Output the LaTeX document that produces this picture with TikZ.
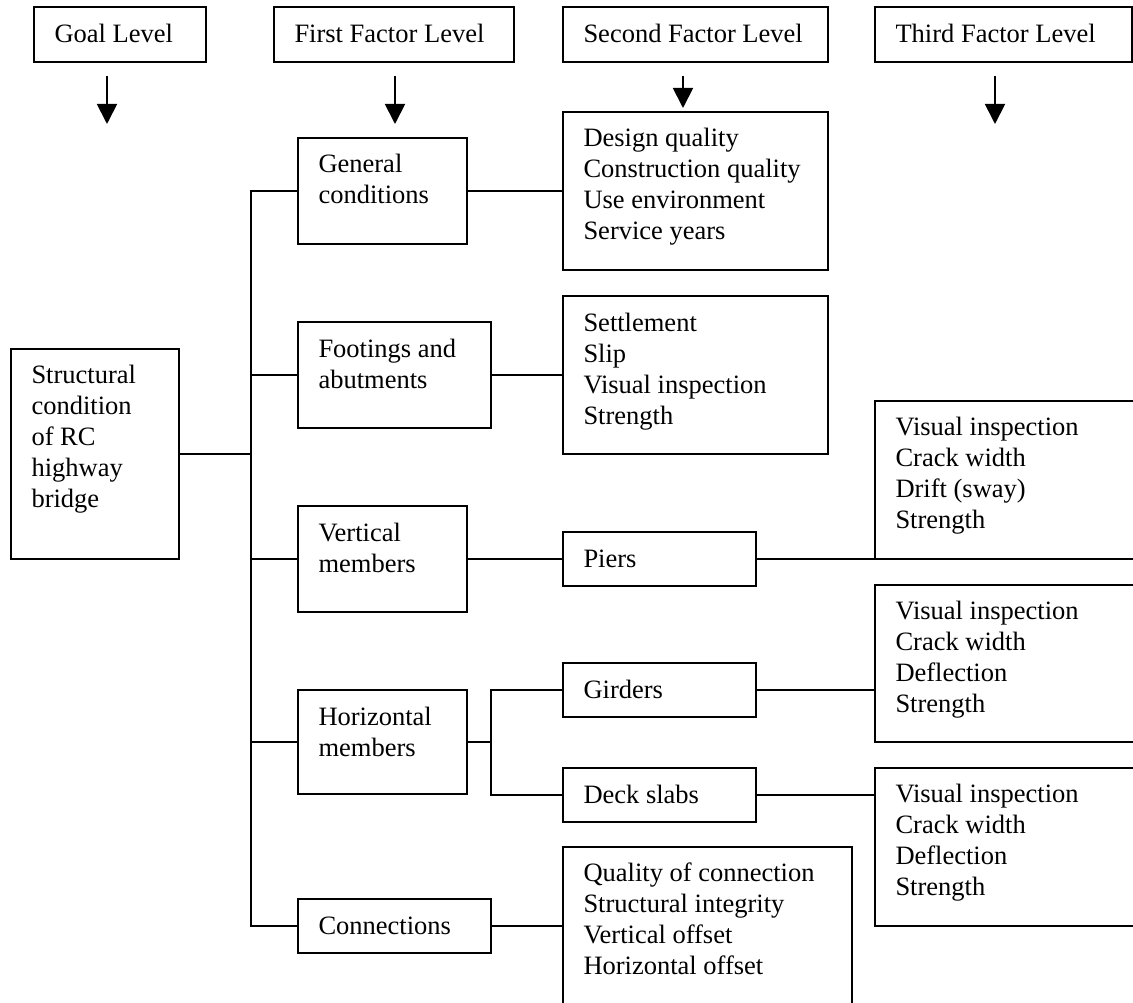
\documentclass[tikz,border=0pt]{standalone}
\usepackage{fontspec}
\setmainfont{Liberation Serif}
\usetikzlibrary{arrows.meta,calc}
\begin{document}
\begin{tikzpicture}[x=1pt,y=-1pt,
  box/.style={draw, line width=1.8pt, inner sep=0pt, outer sep=0pt, anchor=north west},
  txt/.style={inner sep=0pt, outer sep=0pt, anchor=north west, align=left, font=\fontsize{26.5}{31}\selectfont},
  link/.style={line width=1.8pt},
  arr/.style={line width=1.8pt, -{Triangle[width=20pt,length=20pt]}}]
\useasboundingbox (0,0) rectangle (1133,1003);
\clip (0,0) rectangle (1133,1003);

% header boxes
\node[box, minimum width=172, minimum height=55] (goal) at (34,7) {};
\node[box, minimum width=240, minimum height=55] (first) at (274,7) {};
\node[box, minimum width=265, minimum height=55] (second) at (563,7) {};
\node[box, minimum width=257, minimum height=55] (third) at (875,7) {};
\node[txt] (goal-t) at ([shift={(20.5,14.3)}]goal.north west) {\strut Goal Level};
\node[txt] (first-t) at ([shift={(20.5,14.3)}]first.north west) {\strut First Factor Level};
\node[txt] (second-t) at ([shift={(20.5,14.3)}]second.north west) {\strut Second Factor Level};
\node[txt] (third-t) at ([shift={(20.5,14.3)}]third.north west) {\strut Third Factor Level};

% arrows
\coordinate (a1s) at (107,76); \coordinate (a1e) at (107,124);
\coordinate (a2s) at (395,76); \coordinate (a2e) at (395,124);
\coordinate (a3s) at (683,76); \coordinate (a3e) at (683,108);
\coordinate (a4s) at (995,76); \coordinate (a4e) at (995,124);
\draw[arr] (a1s) -- (a1e);
\draw[arr] (a2s) -- (a2e);
\draw[arr] (a3s) -- (a3e);
\draw[arr] (a4s) -- (a4e);

% goal
\node[box, minimum width=168, minimum height=210] (sc) at (11,349) {};
\node[txt] (sc-t) at ([shift={(20.5,12.8)}]sc.north west) {\strut Structural\\condition\\of RC\\highway\\bridge};

% first level
\node[box, minimum width=169, minimum height=106] (gc) at (298,138) {};
\node[txt] (gc-t) at ([shift={(20.5,13.3)}]gc.north west) {\strut General\\conditions};
\node[box, minimum width=193, minimum height=106] (fa) at (298,322) {};
\node[txt] (fa-t) at ([shift={(20.5,13.3)}]fa.north west) {\strut Footings and\\abutments};
\node[box, minimum width=169, minimum height=106] (vm) at (298,506) {};
\node[txt] (vm-t) at ([shift={(20.5,13.3)}]vm.north west) {\strut Vertical\\members};
\node[box, minimum width=169, minimum height=104] (hm) at (298,690) {};
\node[txt] (hm-t) at ([shift={(20.5,13.3)}]hm.north west) {\strut Horizontal\\members};
\node[box, minimum width=193, minimum height=54] (cn) at (298,899) {};
\node[txt] (cn-t) at ([shift={(20.5,13.3)}]cn.north west) {\strut Connections};

% second level
\node[box, minimum width=265, minimum height=158] (dq) at (563,112) {};
\node[txt] (dq-t) at ([shift={(20.5,13.3)}]dq.north west) {\strut Design quality\\Construction quality\\Use environment\\Service years};
\node[box, minimum width=265, minimum height=158] (st) at (563,296) {};
\node[txt] (st-t) at ([shift={(20.5,13.3)}]st.north west) {\strut Settlement\\Slip\\Visual inspection\\Strength};
\node[box, minimum width=193, minimum height=54] (piers) at (563,532) {};
\node[txt] (piers-t) at ([shift={(20.5,13.3)}]piers.north west) {\strut Piers};
\node[box, minimum width=193, minimum height=54] (gi) at (563,663) {};
\node[txt] (gi-t) at ([shift={(20.5,13.3)}]gi.north west) {\strut Girders};
\node[box, minimum width=193, minimum height=54] (ds) at (563,768) {};
\node[txt] (ds-t) at ([shift={(20.5,13.3)}]ds.north west) {\strut Deck slabs};
\node[box, minimum width=289, minimum height=200] (qc) at (563,847) {};
\node[txt] (qc-t) at ([shift={(20.5,12.8)}]qc.north west) {\strut Quality of connection\\Structural integrity\\Vertical offset\\Horizontal offset};

% third level
\node[box, minimum width=290, minimum height=158] (vi1) at (875,401) {};
\node[txt] (vi1-t) at ([shift={(20.5,12.8)}]vi1.north west) {\strut Visual inspection\\Crack width\\Drift (sway)\\Strength};
\node[box, minimum width=290, minimum height=157] (vi2) at (875,585) {};
\node[txt] (vi2-t) at ([shift={(20.5,12.8)}]vi2.north west) {\strut Visual inspection\\Crack width\\Deflection\\Strength};
\node[box, minimum width=290, minimum height=158] (vi3) at (875,768) {};
\node[txt] (vi3-t) at ([shift={(20.5,12.8)}]vi3.north west) {\strut Visual inspection\\Crack width\\Deflection\\Strength};

% connectors
\coordinate (tx) at (251,0);
\coordinate (hx) at (491,0);
\draw[link] (gc.west) -- (gc.west -| tx) -- (cn.west -| tx) -- (cn.west);
\draw[link] (sc.east) -- (sc.east -| tx);
\draw[link] (fa.west) -- (fa.west -| tx);
\draw[link] (vm.west) -- (vm.west -| tx);
\draw[link] (hm.west) -- (hm.west -| tx);
\draw[link] (gc.east) -- (gc.east -| dq.west);
\draw[link] (fa.east) -- (fa.east -| st.west);
\draw[link] (vm.east) -- (vm.east -| piers.west);
\draw[link] (piers.east) -- (piers.east -| vi1.west);
\draw[link] (hm.east) -- (hm.east -| hx);
\draw[link] (gi.west) -- (gi.west -| hx) -- (ds.west -| hx) -- (ds.west);
\draw[link] (gi.east) -- (gi.east -| vi2.west);
\draw[link] (ds.east) -- (ds.east -| vi3.west);
\draw[link] (cn.east) -- (cn.east -| qc.west);
\end{tikzpicture}
\end{document}
